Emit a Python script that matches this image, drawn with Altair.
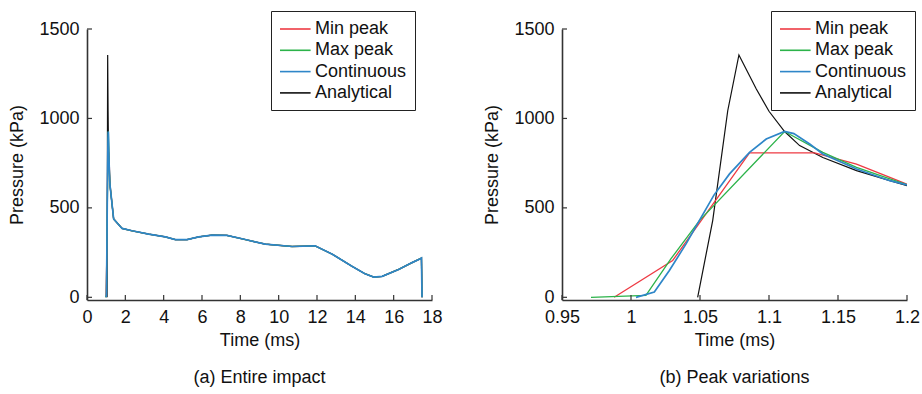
import altair as alt
import pandas as pd

FONT = "Liberation Sans"
series = ["Min peak", "Max peak", "Continuous", "Analytical"]
colors = ["#ee3a43", "#2cb34a", "#2e86c8", "#111111"]
draw_order = ["Analytical", "Min peak", "Max peak", "Continuous"]
widths = {"Analytical": 1.2, "Min peak": 1.3, "Max peak": 1.3, "Continuous": 1.7}

# ---- peak region (panel b) ----
min_t = [0.9878, 1.0302, 1.0859, 1.1331, 1.1634, 1.1876, 1.2]
min_p = [0, 206, 807, 807, 745, 671, 632]

max_t = [0.971, 1.0108, 1.029, 1.0496, 1.1113, 1.139, 1.1634, 1.1876, 1.2]
max_p = [0, 11, 216, 429, 927, 810, 727, 662, 630]

cont_t = [1.0036, 1.0169, 1.0278, 1.04, 1.0496, 1.06, 1.0714, 1.0859, 1.098,
          1.1113, 1.118, 1.1295, 1.139, 1.1634, 1.1876, 1.2]
cont_p = [0, 30, 150, 300, 430, 570, 690, 810, 885,
          927, 915, 857, 801, 717, 652, 628]

ana_t = [1.0483, 1.0592, 1.0701, 1.0782, 1.0908, 1.1, 1.1113, 1.1222, 1.139,
         1.1634, 1.1876, 1.2]
ana_p = [0, 429, 1043, 1355, 1165, 1040, 927, 848, 782, 708, 652, 624]

# ---- remainder of the impact (panel a, after 1.2 ms) ----
tail_t = [1.39, 1.83, 2.35, 3.22, 4.09, 4.61, 5.22, 5.83, 6.52, 7.3, 8.26, 9.3,
          10.7, 11.9, 12.8, 13.8, 14.5, 14.96, 15.4, 16.26, 16.96, 17.39, 17.45, 17.48]
tail_p = [438, 385, 372, 353, 338, 323, 323, 338, 348, 346, 323, 297,
          284, 288, 241, 175, 132, 113, 117, 156, 194, 216, 220, 0]

xticks_a = [0, 2, 4, 6, 8, 10, 12, 14, 16, 18]
xticks_b = [0.95, 1, 1.05, 1.1, 1.15, 1.2]
yticks = [0, 500, 1000, 1500]

peak = {
    "Min peak": (min_t, min_p),
    "Max peak": (max_t, max_p),
    "Continuous": (cont_t, cont_p),
    "Analytical": (ana_t, ana_p),
}
full = {k: (v[0] + tail_t, v[1] + tail_p) for k, v in peak.items()}

W, H = 345, 271
AX = "#333333"


def panel(data, xdomain, xticks, xfmt, legend_x, title):
    xs = alt.Scale(domain=xdomain, nice=False, zero=False)
    ys = alt.Scale(domain=[-15, 1500], nice=False, zero=False)
    xaxis = alt.Axis(values=xticks, format=xfmt, title="Time (ms)", ticks=False,
                     tickSize=0, grid=False, labelPadding=8, titlePadding=5,
                     labelFlush=False, labelOverlap=False)
    yaxis = alt.Axis(values=yticks, format="d", title="Pressure (kPa)", ticks=False,
                     tickSize=0, grid=False, labelPadding=8, titlePadding=12,
                     labelFlush=False, labelOverlap=False)
    legend = alt.Legend(
        title=None, orient="none", legendX=legend_x, legendY=-18,
        fillColor="white", strokeColor="#222222", padding=8, cornerRadius=0,
        symbolType="M-1,0L2.4,0", symbolSize=324, symbolStrokeWidth=1.6,
        labelFontSize=18, labelFont=FONT, labelColor="#111111", labelOffset=16,
        labelExpr="datum.label + '\u2003'",
        rowPadding=2.3, labelLimit=300,
    )
    cscale = alt.Scale(domain=series, range=colors)
    layers = []
    for name in draw_order:
        t, p = data[name]
        df = pd.DataFrame({"t": t, "p": p, "series": name})
        layers.append(
            alt.Chart(df).mark_line(strokeWidth=widths[name], clip=True).encode(
                x=alt.X("t:Q", scale=xs, axis=xaxis),
                y=alt.Y("p:Q", scale=ys, axis=yaxis),
                color=alt.Color("series:N", scale=cscale, legend=legend),
            )
        )
    xt = alt.Chart(pd.DataFrame({"t": xticks})).mark_rule(color=AX, strokeWidth=1.2).encode(
        x=alt.X("t:Q", scale=xs, axis=xaxis), y=alt.value(H), y2=alt.value(H - 5))
    yt = alt.Chart(pd.DataFrame({"p": yticks})).mark_rule(color=AX, strokeWidth=1.2).encode(
        y=alt.Y("p:Q", scale=ys, axis=yaxis), x=alt.value(0), x2=alt.value(5))
    return alt.layer(*layers, xt, yt).properties(
        width=W, height=H,
        title=alt.TitleParams(title, orient="bottom", frame="group", anchor="middle",
                              offset=20, fontSize=18, font=FONT, fontWeight="normal",
                              color="#111111"),
    )


pa = panel(full, [0, 18], xticks_a, "d", 184, "(a) Entire impact")
pb = panel(peak, [0.95, 1.2], xticks_b, "~g", 209, "(b) Peak variations")

chart = (
    alt.hconcat(pa, pb, spacing=40)
    .resolve_scale(color="independent", x="independent", y="independent")
    .resolve_legend(color="independent")
    .properties(padding={"left": 8, "top": 10, "right": 0, "bottom": 0})
    .configure_view(stroke=None)
    .configure_axis(
        domainColor=AX, domainWidth=1.6, labelFont=FONT, titleFont=FONT,
        labelFontSize=18, titleFontSize=18, titleFontWeight="normal",
        labelColor="#111111", titleColor="#111111",
    )
)

chart.save("out.html", embed_options={"renderer": "svg", "actions": False})
